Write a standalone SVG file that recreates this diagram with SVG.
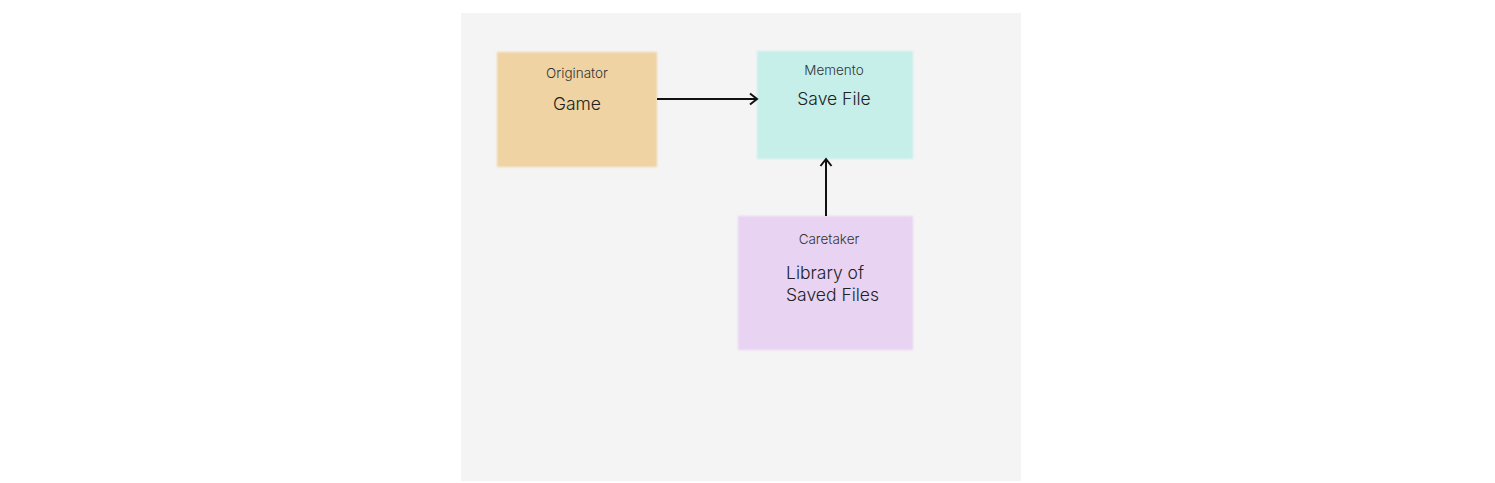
<svg xmlns="http://www.w3.org/2000/svg" width="1495" height="483" viewBox="0 0 1495 483">
<style>
.small{font-family:Inter,"Liberation Sans",sans-serif;font-size:13.5px;font-weight:300;fill:#333;text-anchor:middle}
.big{font-family:Inter,"Liberation Sans",sans-serif;font-size:17.5px;font-weight:300;fill:#222;text-anchor:middle}
.edge{stroke:#111;stroke-width:2;fill:none}
</style>
<defs>
<marker id="ah" viewBox="0 0 14 14" refX="12" refY="7" markerWidth="14" markerHeight="14" markerUnits="userSpaceOnUse" orient="auto">
<path d="M5,1.5 L12,7 L5,12.5" fill="none" stroke="#111" stroke-width="2"/>
</marker>
<filter id="blur" x="-5%" y="-5%" width="110%" height="110%"><feGaussianBlur stdDeviation="1"/></filter>
</defs>
<rect width="1495" height="483" fill="#fff"/>
<rect x="461" y="13" width="560" height="468" fill="#f4f4f4"/>
<g id="originator">
<rect x="497" y="52" width="160" height="115" fill="#efd3a3" filter="url(#blur)"/>
<text class="small" x="577" y="78">Originator</text>
<text class="big" x="577" y="110">Game</text>
</g>
<g id="memento">
<rect x="757" y="51" width="156" height="108" fill="#c6efea" filter="url(#blur)"/>
<text class="small" x="834" y="75">Memento</text>
<text class="big" x="834" y="105">Save File</text>
</g>
<g id="caretaker">
<rect x="738" y="216" width="175" height="134" fill="#e8d3f2" filter="url(#blur)"/>
<text class="small" x="829" y="244">Caretaker</text>
<text class="big" x="786" y="279" style="text-anchor:start">Library of</text>
<text class="big" x="786" y="301" style="text-anchor:start">Saved Files</text>
</g>
<g id="connectors">
<line class="edge" x1="657" y1="99" x2="757" y2="99" marker-end="url(#ah)"/>
<line class="edge" x1="826" y1="216" x2="826" y2="159" marker-end="url(#ah)"/>
</g>
</svg>
